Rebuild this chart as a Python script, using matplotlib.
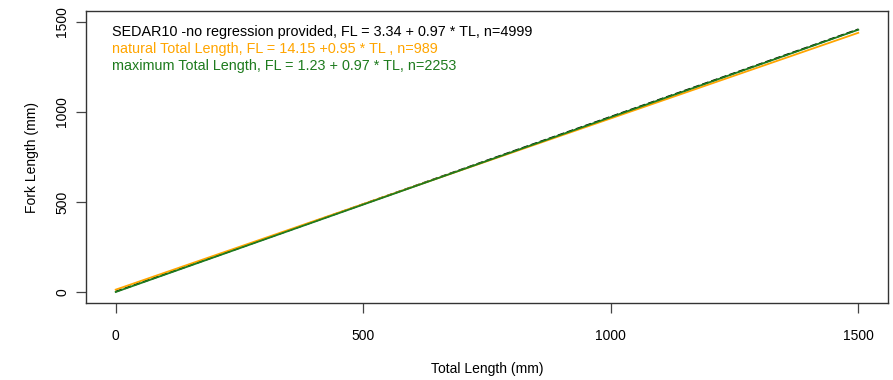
import matplotlib
matplotlib.use('Agg')
import matplotlib.pyplot as plt
import numpy as np

plt.rcParams['font.family'] = ['Liberation Sans', 'DejaVu Sans']

# regression lines FL = a + b * TL
labels = ['SEDAR10 -no regression provided, FL = 3.34 + 0.97 * TL, n=4999',
          'natural Total Length, FL = 14.15 +0.95 * TL , n=989',
          'maximum Total Length, FL = 1.23 + 0.97 * TL, n=2253']
intercepts = [3.34, 14.15, 1.23]
slopes = [0.97, 0.95, 0.97]
colors = ['black', '#FFA500', '#1E7B1E']
styles = ['--', '-', '-']
tl_range = [0, 1500]

ticks = [0, 500, 1000, 1500]

fig = plt.figure(figsize=(8.93, 3.8), dpi=100)
ax = fig.add_axes([0.0963, 0.2026, 0.8981, 0.7684])

tl = np.array(tl_range)
for a, b, c, ls in zip(intercepts, slopes, colors, styles):
    ax.plot(tl, a + b * tl, color=c, linestyle=ls, linewidth=1.3)

ax.set_xlim(-60, 1560)
ax.set_ylim(-60, 1560)
ax.set_xticks(ticks)
ax.set_yticks(ticks)
ax.set_yticklabels([str(t) for t in ticks], rotation=90, va='center')
ax.tick_params(direction='out', length=7, width=0.9, labelsize=10, color='#444444')
ax.tick_params(axis='x', pad=12)
ax.tick_params(axis='y', pad=5)
for s in ax.spines.values():
    s.set_linewidth(1.0)
    s.set_color('#333333')

ax.set_xlabel('Total Length (mm)', fontsize=10, labelpad=13.5)
ax.set_ylabel('Fork Length (mm)', fontsize=10, labelpad=12)

for i, (txt, c) in enumerate(zip(labels, colors)):
    ax.text(0.032, 0.927 - i * 0.058, txt, color=c, fontsize=10.35,
            transform=ax.transAxes, va='center', ha='left')

fig.savefig('out.png', dpi=100)
